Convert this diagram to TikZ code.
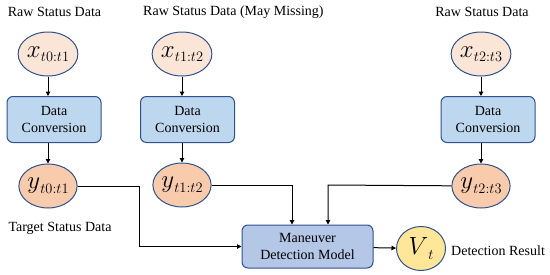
\documentclass[tikz,border=0pt]{standalone}
\usepackage{fontspec}
\setmainfont{Liberation Serif}
\usetikzlibrary{arrows.meta,shapes.geometric}
\definecolor{xfill}{HTML}{FBE5D6}
\definecolor{yfill}{HTML}{F8CBAD}
\definecolor{boxfill}{HTML}{BDD7EE}
\definecolor{mfill}{HTML}{B4C7E7}
\definecolor{vfill}{HTML}{FFE699}
\definecolor{edge}{HTML}{2F528F}
\newcommand\cvar[2]{{\fontsize{25}{25}\selectfont$#1$}\kern0.2pt\raisebox{-4.5pt}{\fontsize{14.5}{14.5}\selectfont$#2$}}
\begin{document}
\begin{tikzpicture}[x=1pt,y=-1pt,
  lab/.style={font=\fontsize{14}{16}\selectfont, inner sep=0pt},
  var/.style={ellipse, draw=edge, line width=1pt, minimum width=49pt, minimum height=44pt, inner sep=0pt},
  xvar/.style={var, fill=xfill},
  yvar/.style={var, fill=yfill},
  convbox/.style={draw=edge, line width=1pt, fill=boxfill, rounded corners=6pt, minimum width=94pt, minimum height=46pt, align=center, font=\fontsize{14}{17}\selectfont, inner sep=0pt},
  mbox/.style={draw=edge, line width=1pt, fill=mfill, rounded corners=6pt, minimum width=131pt, minimum height=43pt, align=center, font=\fontsize{14}{17}\selectfont, inner sep=0pt},
  vvar/.style={var, fill=vfill},
  arr/.style={draw=black, line width=1pt, -{Triangle[length=4.5pt,width=4.5pt]}}
]
\useasboundingbox (0,0) rectangle (550,274);

\node[lab] (l1) at (54.5,12) {Raw Status Data};
\node[lab, anchor=west] (l2) at (143,12) {Raw Status Data (May Missing)};
\node[lab] (l3) at (482,12) {Raw Status Data};
\node[lab] (l4) at (60,228) {Target Status Data};
\node[lab, anchor=west] (l5) at (451,251) {Detection Result};

\node[xvar] (x1) at (48,54) {\cvar{x}{t0{:}t1}};
\node[xvar] (x2) at (182,54) {\cvar{x}{t1{:}t2}};
\node[xvar] (x3) at (481,54) {\cvar{x}{t2{:}t3}};

\node[convbox] (b1) at (54,119.5) {Data\\Conversion};
\node[convbox] (b2) at (187.5,119.5) {Data\\Conversion};
\node[convbox] (b3) at (488,119.5) {Data\\Conversion};

\node[yvar] (y1) at (48,186) {\cvar{y}{t0{:}t1}};
\node[yvar] (y2) at (182,185) {\cvar{y}{t1{:}t2}};
\node[yvar] (y3) at (481,186) {\cvar{y}{t2{:}t3}};

\node[mbox] (m) at (307.5,246.5) {Maneuver\\Detection Model};
\node[vvar] (v) at (421,248.5) {\cvar{V}{t}};

\coordinate (k1) at (139,186);
\coordinate (k2) at (292,185);
\coordinate (k3) at (328,185);

\draw[arr] (x1) -- (x1 |- b1.north);
\draw[arr] (x2) -- (x2 |- b2.north);
\draw[arr] (x3) -- (x3 |- b3.north);
\draw[arr] (y1 |- b1.south) -- (y1);
\draw[arr] (y2 |- b2.south) -- (y2);
\draw[arr] (y3 |- b3.south) -- (y3);
\draw[arr] (y1) -- (k1) |- (m);
\draw[arr] (y2) -- (k2) -- (k2 |- m.north);
\draw[arr] (y3) -- (k3) -- (k3 |- m.north);
\draw[arr] (m) -- (v);
\end{tikzpicture}
\end{document}
